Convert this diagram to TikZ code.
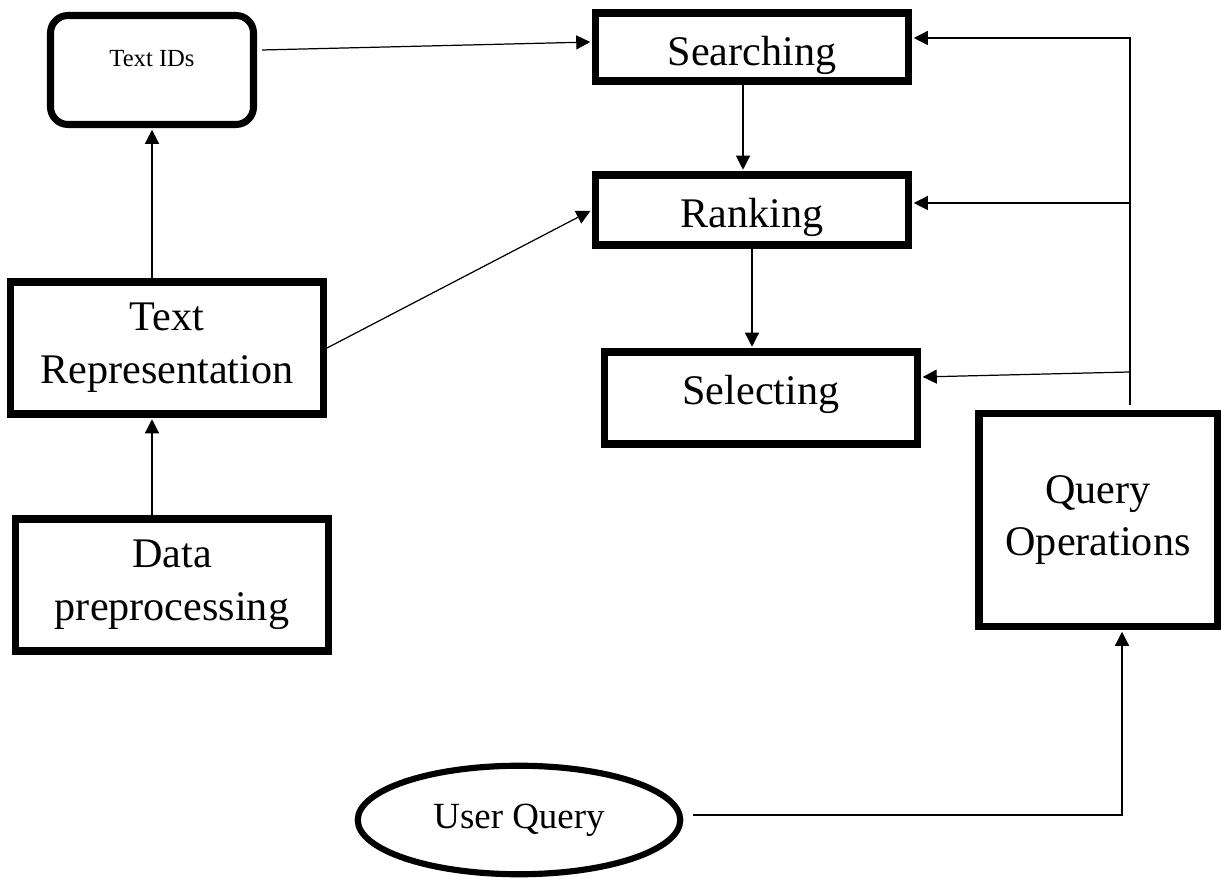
\documentclass[tikz,border=0pt]{standalone}
\usepackage{fontspec}
\setmainfont{Liberation Serif}
\usepackage{tikz}
\usetikzlibrary{positioning, arrows.meta, shapes, calc}

\begin{document}
\begin{tikzpicture}[
    box/.style={draw, rectangle, line width=4pt, align=center, inner sep=0pt, font=\fontsize{24}{30}\selectfont},
    arr/.style={-{Triangle[length=0.28cm, width=0.28cm]}, line width=0.7pt, shorten >=1pt}
]
    \useasboundingbox (0,0) rectangle (24.42,17.58);

    % Left column
    \node[box, rounded corners=0.35cm, minimum width=4.06cm, minimum height=2.18cm, font=\fontsize{14}{16}\selectfont, text height=0.2cm, text depth=0.32cm] (textids) at (3.04,16.18) {Text IDs};
    \node[box, minimum width=6.26cm, minimum height=2.64cm] (textrep) at (3.34,10.62) {Text\\Representation};
    \node[box, minimum width=6.26cm, minimum height=2.64cm] (datapre) at (3.44,5.88) {Data\\preprocessing};

    % Middle column
    \node[box, minimum width=6.26cm, minimum height=1.36cm, text height=0.76cm, text depth=0cm] (searching) at (15.04,16.64) {Searching};
    \node[box, minimum width=6.26cm, minimum height=1.4cm, text height=0.72cm, text depth=0cm] (ranking) at (15.04,13.38) {Ranking};
    \node[box, minimum width=6.26cm, minimum height=1.84cm, text height=0.52cm, text depth=0.26cm] (selecting) at (15.22,9.62) {Selecting};

    % Query side
    \node[box, minimum width=4.76cm, minimum height=4.26cm] (queryops) at (21.96,7.18) {Query\\Operations};
    \node[ellipse, draw, line width=3.5pt, minimum width=6.45cm, minimum height=2.17cm, inner sep=0pt, font=\fontsize{21}{25}\selectfont] (userquery) at (10.38,1.18) {User Query};

    % Arrows
    \draw[arr] ([shift={(1mm,4mm)}]textids.east) -- ([yshift=1mm]searching.west);
    \draw[arr] ([xshift=-1.8mm]searching.south) -- ([xshift=-1.8mm]searching.south |- ranking.north);
    \draw[arr] (ranking.south) -- (ranking.south |- selecting.north);
    \draw[arr] (textrep.east) -- (ranking.west);
    \draw[arr] (textrep.north -| textids.south) -- (textids.south);
    \draw[arr] (datapre.north -| textids.south) -- (textrep.south -| textids.south);

    % Feedback from query operations
    \coordinate (qtop) at ([xshift=6.4mm, yshift=1mm]queryops.north);
    \draw[arr] (qtop) |- ([yshift=1.8mm]searching.east);
    \draw[arr] ([yshift=1.4mm]qtop |- ranking.east) -- ([yshift=1.4mm]ranking.east);
    \draw[arr] ([yshift=5.2mm]qtop |- selecting.east) -- ([yshift=4.2mm]selecting.east);
    \draw[arr] ([shift={(2mm,1mm)}]userquery.east) -| ([xshift=4.8mm]queryops.south);

\end{tikzpicture}
\end{document}
